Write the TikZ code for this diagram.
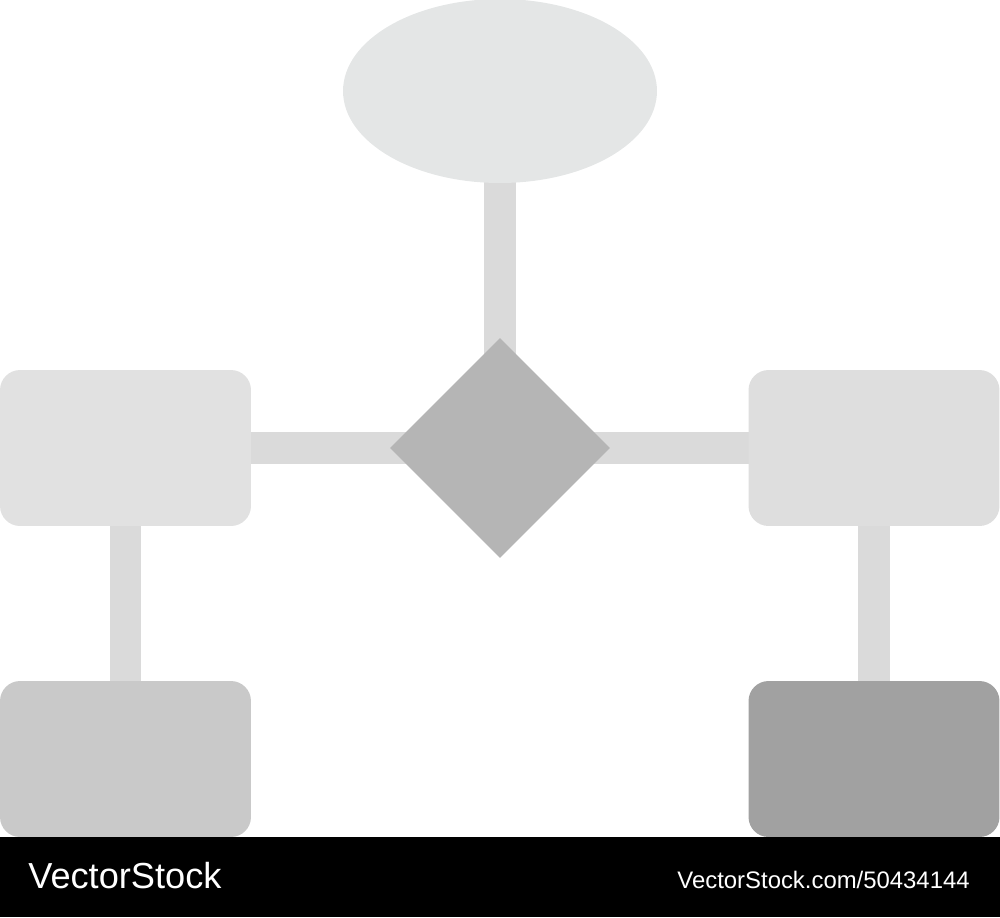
\documentclass[tikz,border=0pt]{standalone}
\usepackage{fontspec}
\setmainfont{Liberation Sans}
\usepackage{tikz}
\usetikzlibrary{shapes,shapes.geometric,positioning,calc,backgrounds}

\definecolor{ellgray}{HTML}{E4E6E6}
\definecolor{boxgray}{HTML}{E1E1E1}
\definecolor{boxgraytwo}{HTML}{DEDEDE}
\definecolor{linkgray}{HTML}{DADADA}
\definecolor{diagray}{HTML}{B5B5B5}
\definecolor{midgray}{HTML}{C9C9C9}
\definecolor{darkgray}{HTML}{A1A1A1}

\tikzset{
    startnode/.style={ellipse, fill=ellgray, inner sep=0pt, minimum width=6.28cm, minimum height=3.68cm},
    decision/.style={diamond, fill=diagray, inner sep=0pt, minimum width=4.4cm, minimum height=4.4cm},
    procbox/.style={rectangle, rounded corners=0.4cm, inner sep=0pt, minimum width=5.02cm, minimum height=3.12cm},
    link/.style={linkgray, line width=0.64cm}
}

\begin{document}
\begin{tikzpicture}[x=0.02cm, y=-0.02cm]
    \useasboundingbox (0,0) rectangle (1000,917);

    % Shapes
    \node[startnode] (ell) at (500,91) {};
    \node[decision] (dia) at (500,448) {};
    \node[procbox, fill=boxgray] (left) at (125.5,448) {};
    \node[procbox, fill=boxgraytwo] (right) at (874,448) {};
    \node[procbox, fill=midgray] (botleft) at (125.5,759) {};
    \node[procbox, fill=darkgray] (botright) at (874,759) {};

    % Links
    \begin{pgfonlayer}{background}
        \draw[link] (ell.center) -- (dia.center);
        \draw[link] (left.center) -- (right.center);
        \draw[link] (left.center) -- (botleft.center);
        \draw[link] (right.center) -- (botright.center);
    \end{pgfonlayer}

    % Footer
    \fill[black] (0,837) rectangle (1000,917);
    \node[white, anchor=base west, inner sep=0pt, font=\fontsize{20.6}{24}\selectfont] (brand) at (28,888) {VectorStock};
    \node[white, anchor=base east, inner sep=0pt, font=\fontsize{13.6}{16}\selectfont] (ref) at (970,888) {VectorStock.com/50434144};
\end{tikzpicture}
\end{document}
